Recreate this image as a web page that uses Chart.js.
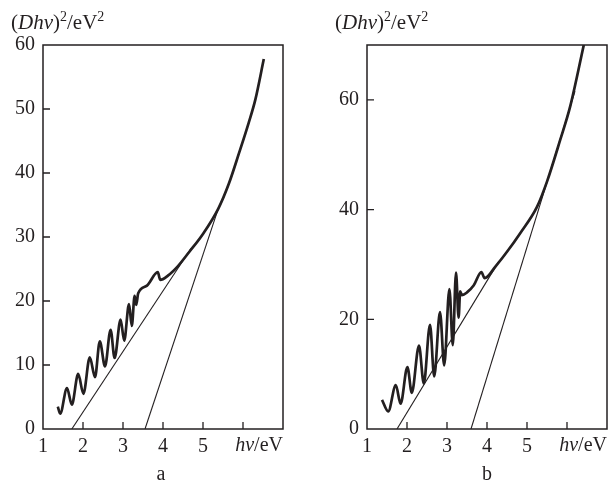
<!DOCTYPE html>
<html>
<head>
<meta charset="utf-8">
<script src="https://cdn.jsdelivr.net/npm/chart.js@4.4.1/dist/chart.umd.min.js"></script>
<style>
  html, body { margin: 0; padding: 0; background: #fff; }
  #wrap { position: relative; width: 608px; height: 482px; font-family: 'Liberation Serif', 'Times New Roman', serif; color: #231f20; }
  .box { position: absolute; top: 0; height: 482px; }
  .lbl { position: absolute; font-size: 20px; line-height: 20px; white-space: nowrap; }
  .ttl { font-size: 21px; }
  .lbl sup { font-size: 14px; vertical-align: 8px; line-height: 0; }
</style>
</head>
<body>
<div id="wrap">
  <div class="box" style="left:0;width:300px"><canvas id="chartA"></canvas></div>
  <div class="box" style="left:324px;width:284px"><canvas id="chartB"></canvas></div>

  <div class="lbl ttl" style="left:11px;top:12px">(<i>Dhν</i>)<sup>2</sup>/eV<sup>2</sup></div>
  <div class="lbl ttl" style="left:335px;top:12px">(<i>Dhν</i>)<sup>2</sup>/eV<sup>2</sup></div>
  <div class="lbl" style="left:203px;top:434px;width:80px;text-align:right"><i>hν</i>/eV</div>
  <div class="lbl" style="left:527px;top:434px;width:80px;text-align:right"><i>hν</i>/eV</div>
  <div class="lbl" style="left:141px;top:463px;width:40px;text-align:center">a</div>
  <div class="lbl" style="left:467px;top:463px;width:40px;text-align:center">b</div>
</div>
<script>
const ink = '#231f20';

// x axis (photon energy, eV)
const xTicks = [1, 2, 3, 4, 5, 6];
const xTickLabels = ['1', '2', '3', '4', '5', ''];

// panel a
const yTicksA = [0, 10, 20, 30, 40, 50, 60];
const hvA = [1.37, 1.43, 1.6, 1.72, 1.88, 2.01, 2.17, 2.3, 2.42, 2.55, 2.69, 2.79, 2.94, 3.03, 3.15, 3.22, 3.29, 3.33, 3.38, 3.6, 3.87, 3.93, 4.13, 4.38, 4.66, 4.99, 5.38, 5.65, 5.9, 6.14, 6.31, 6.52];
const dA = [3.5, 2.4, 6.4, 3.8, 8.6, 5.5, 11.2, 8.1, 13.7, 9.8, 15.5, 11.1, 17.1, 13.8, 19.5, 16.1, 20.8, 19.4, 21.2, 22.4, 24.5, 23.3, 24.0, 25.5, 27.7, 30.4, 34.4, 38.4, 43.1, 47.8, 51.5, 57.8];
const fitA1x = [1.72, 4.7];
const fitA1y = [0, 28.2];
const fitA2x = [3.55, 5.38];
const fitA2y = [0, 34.4];

// panel b
const yTicksB = [0, 20, 40, 60];
const hvB = [1.375, 1.53, 1.72, 1.84, 2.01, 2.12, 2.3, 2.42, 2.575, 2.68, 2.825, 2.93, 3.06, 3.145, 3.225, 3.29, 3.33, 3.37, 3.5, 3.67, 3.86, 3.94, 4.22, 4.5, 4.83, 5.25, 5.5, 5.83, 6.08, 6.42];
const dB = [5.3, 3.2, 8.0, 4.6, 11.3, 6.6, 15.2, 8.3, 19.0, 9.6, 21.3, 11.6, 25.5, 15.3, 28.5, 20.3, 25.1, 24.4, 24.9, 26.2, 28.6, 27.5, 29.7, 32.3, 35.7, 40.5, 45.1, 52.7, 58.8, 70];
const fitB1x = [1.75, 4.3];
const fitB1y = [0, 30.6];
const fitB2x = [3.6, 6.2];
const fitB2y = [0, 61.6];

const pts = (xs, ys) => xs.map((x, i) => ({ x, y: ys[i] }));

const frame = {
  id: 'frame',
  afterDraw(chart) {
    const { ctx, chartArea: a, scales: { x, y } } = chart;
    ctx.save();
    ctx.strokeStyle = ink;
    ctx.lineWidth = 1.3;
    ctx.beginPath();
    x.ticks.forEach((t) => {
      const px = x.getPixelForValue(t.value);
      if (px > a.left + 2 && px < a.right - 2) {
        ctx.moveTo(px, a.bottom);
        ctx.lineTo(px, a.bottom - 7);
      }
    });
    y.ticks.forEach((t) => {
      const py = y.getPixelForValue(t.value);
      if (py > a.top + 2 && py < a.bottom - 2) {
        ctx.moveTo(a.left, py);
        ctx.lineTo(a.left + 7, py);
      }
    });
    ctx.stroke();
    ctx.lineWidth = 1.5;
    ctx.strokeRect(a.left, a.top, a.right - a.left, a.bottom - a.top);
    ctx.restore();
  }
};

function makeChart(id, curveX, curveY, fits, yTicks, yMax, rightPad) {
  const datasets = [{
    data: pts(curveX, curveY),
    borderColor: ink,
    borderWidth: 2.7,
    pointRadius: 0,
    cubicInterpolationMode: 'monotone'
  }];
  fits.forEach(([fx, fy]) => {
    datasets.push({
      data: pts(fx, fy),
      borderColor: ink,
      borderWidth: 1.1,
      pointRadius: 0,
      tension: 0
    });
  });

  return new Chart(document.getElementById(id), {
    type: 'line',
    data: { datasets },
    plugins: [frame],
    options: {
      responsive: true,
      maintainAspectRatio: false,
      animation: false,
      layout: { padding: { top: 45, right: rightPad, bottom: 19, left: 0 } },
      plugins: { legend: { display: false }, tooltip: { enabled: false } },
      scales: {
        x: {
          type: 'linear',
          min: 1,
          max: 7,
          grid: { display: false, drawTicks: false },
          border: { display: false },
          afterBuildTicks: (s) => { s.ticks = xTicks.map((v) => ({ value: v })); },
          afterFit: (s) => { s.height = 34; },
          ticks: {
            color: ink,
            padding: 6,
            maxRotation: 0,
            font: { family: "'Liberation Serif', serif", size: 20 },
            callback: (v, i) => xTickLabels[i]
          }
        },
        y: {
          min: 0,
          max: yMax,
          grid: { display: false, drawTicks: false },
          border: { display: false },
          afterBuildTicks: (s) => { s.ticks = yTicks.map((v) => ({ value: v })); },
          afterFit: (s) => { s.width = 43; },
          ticks: {
            color: ink,
            padding: 8,
            font: { family: "'Liberation Serif', serif", size: 20 },
            callback: (v) => String(v)
          }
        }
      }
    }
  });
}

makeChart('chartA', hvA, dA, [[fitA1x, fitA1y], [fitA2x, fitA2y]], yTicksA, 60, 17);
makeChart('chartB', hvB, dB, [[fitB1x, fitB1y], [fitB2x, fitB2y]], yTicksB, 70, 1);
</script>
</body>
</html>
